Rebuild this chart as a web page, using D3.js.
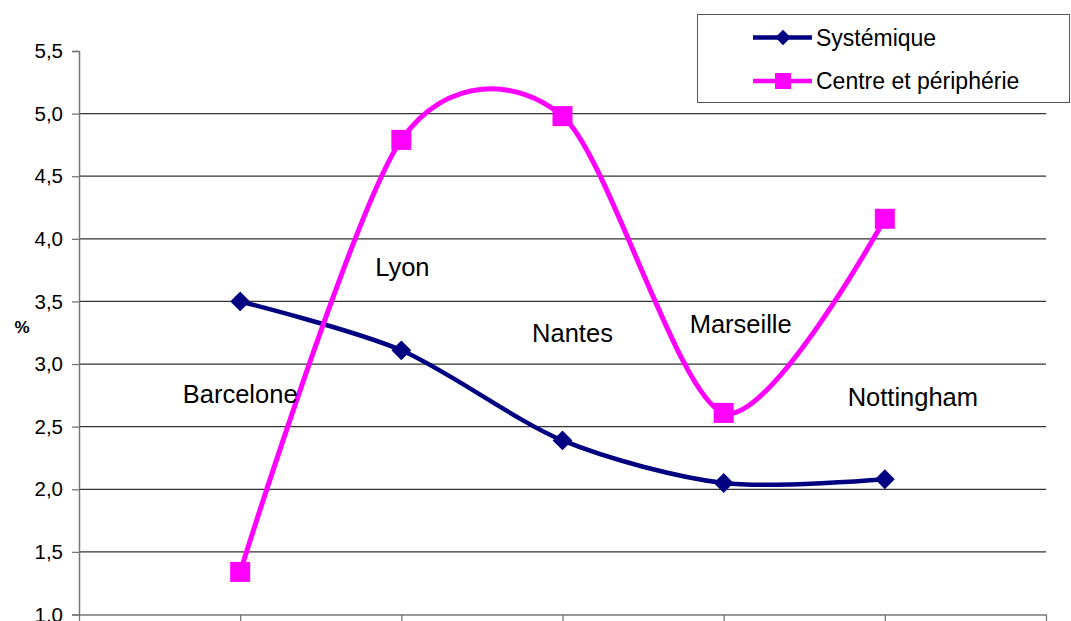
<!DOCTYPE html>
<html>
	<head>
		<meta charset="utf-8">
		<title>Systémique / Centre et périphérie</title>
		<script src="https://cdn.jsdelivr.net/npm/d3@7/dist/d3.min.js"></script>
		<style>
			body { margin: 0; background: #fff; }
			text { font-family: "Liberation Sans", Arial, sans-serif; }
		</style>
	</head>
	<body>
		<div id="viz"></div>
		<script>
			// data
			var cities = ['Barcelone', 'Lyon', 'Nantes', 'Marseille', 'Nottingham'];
			var systemique = [3.50, 3.11, 2.39, 2.05, 2.08];
			var centrePeripherie = [1.34, 4.79, 4.98, 2.61, 4.16];
			// height (in %) where each city name sits inside the plot
			var cityLabelLevel = [2.76, 3.78, 3.25, 3.32, 2.74];
			var yTicks = [1.0, 1.5, 2.0, 2.5, 3.0, 3.5, 4.0, 4.5, 5.0, 5.5];
			var seriesNames = ['Systémique', 'Centre et périphérie'];

			var width = 1071,
				height = 621;
			var plotLeft = 79, plotRight = 1046, plotTop = 51, plotBottom = 614.5;

			var x = d3.scaleLinear().domain([0, cities.length + 1]).range([plotLeft, plotRight]);
			var y = d3.scaleLinear().domain([1, 5.5]).range([plotBottom, plotTop]);
			var fmt = function(d){ return d3.format('.1f')(d).replace('.', ','); };

			var svg = d3.select('#viz')
				.append('svg')
				.attr('width', width)
				.attr('height', height);

			// gridlines
			svg.append('g')
				.selectAll('line')
				.data(yTicks.filter(d => d > 1 && d < 5.5))
				.join('line')
				.attr('x1', plotLeft).attr('x2', plotRight)
				.attr('y1', d => y(d)).attr('y2', d => y(d))
				.attr('stroke', '#333')
				.attr('stroke-width', 1.2);

			// y axis
			var yAxis = svg.append('g')
				.attr('transform', `translate(${plotLeft},0)`)
				.call(d3.axisLeft(y).tickValues(yTicks).tickFormat(fmt).tickSize(7).tickPadding(9));
			yAxis.select('.domain').attr('stroke', '#777').attr('stroke-width', 1.5);
			yAxis.selectAll('.tick line').attr('stroke', '#777').attr('stroke-width', 1.3);
			yAxis.selectAll('.tick text')
				.attr('font-size', 20.5)
				.attr('font-family', '"Liberation Sans", Arial, sans-serif')
				.attr('fill', '#000');

			// x axis (no labels, tick marks on the category positions)
			var xAxis = svg.append('g')
				.attr('transform', `translate(0,${plotBottom})`)
				.call(d3.axisBottom(x).ticks(cities.length + 1).tickFormat('').tickSize(8).tickSizeOuter(0));
			xAxis.select('.domain').attr('stroke', '#777').attr('stroke-width', 1.5);
			xAxis.selectAll('.tick line').attr('stroke', '#777').attr('stroke-width', 1.3);

			svg.append('text')
				.attr('x', 22).attr('y', 333)
				.attr('text-anchor', 'middle')
				.attr('font-size', 17)
				.attr('font-weight', 'bold')
				.text('%');

			var line = d3.line()
				.x((d, i) => x(i + 1))
				.y(d => y(d))
				.curve(d3.curveCardinal.tension(0.15));

			// Systémique
			svg.append('path')
				.datum(systemique)
				.attr('fill', 'none')
				.attr('stroke', '#000080')
				.attr('stroke-width', 4.5)
				.attr('d', line);
			svg.append('g')
				.selectAll('rect')
				.data(systemique)
				.join('rect')
				.attr('x', -7).attr('y', -7)
				.attr('width', 14).attr('height', 14)
				.attr('transform', (d, i) => `translate(${x(i + 1)},${y(d)}) rotate(45)`)
				.attr('fill', '#000080');

			// Centre et périphérie
			svg.append('path')
				.datum(centrePeripherie)
				.attr('fill', 'none')
				.attr('stroke', '#ff00ff')
				.attr('stroke-width', 5)
				.attr('d', line);
			svg.append('g')
				.selectAll('rect')
				.data(centrePeripherie)
				.join('rect')
				.attr('x', (d, i) => x(i + 1) - 10)
				.attr('y', d => y(d) - 10)
				.attr('width', 20).attr('height', 20)
				.attr('fill', '#ff00ff');

			// city names inside the plot
			var labelShift = [0, 1, 10, 17, 28];
			svg.append('g')
				.attr('font-size', 25.5)
				.attr('text-anchor', 'middle')
				.selectAll('text')
				.data(cities)
				.join('text')
				.attr('x', (d, i) => x(i + 1) + labelShift[i])
				.attr('y', (d, i) => y(cityLabelLevel[i]))
				.attr('dy', '0.36em')
				.attr('fill', '#000')
				.text(d => d);

			// legend
			var legend = svg.append('g');
			legend.append('rect')
				.attr('x', 697.5).attr('y', 14.5)
				.attr('width', 372).attr('height', 88)
				.attr('fill', '#fff')
				.attr('stroke', '#555')
				.attr('stroke-width', 1);
			var legY = [37.5, 81];
			var legColor = ['#000080', '#ff00ff'];
			seriesNames.forEach(function(name, i){
				legend.append('line')
					.attr('x1', 753).attr('x2', 812)
					.attr('y1', legY[i]).attr('y2', legY[i])
					.attr('stroke', legColor[i])
					.attr('stroke-width', 4.5);
				if (i === 0) {
					legend.append('rect')
						.attr('x', -5.5).attr('y', -5.5).attr('width', 11).attr('height', 11)
						.attr('transform', `translate(783,${legY[i]}) rotate(45)`)
						.attr('fill', legColor[i]);
				} else {
					legend.append('rect')
						.attr('x', 775).attr('y', legY[i] - 8).attr('width', 16).attr('height', 16)
						.attr('fill', legColor[i]);
				}
				legend.append('text')
					.attr('x', 816).attr('y', legY[i])
					.attr('dy', '0.36em')
					.attr('font-size', 23)
					.attr('fill', '#000')
					.text(name);
			});
		</script>
	</body>
</html>
